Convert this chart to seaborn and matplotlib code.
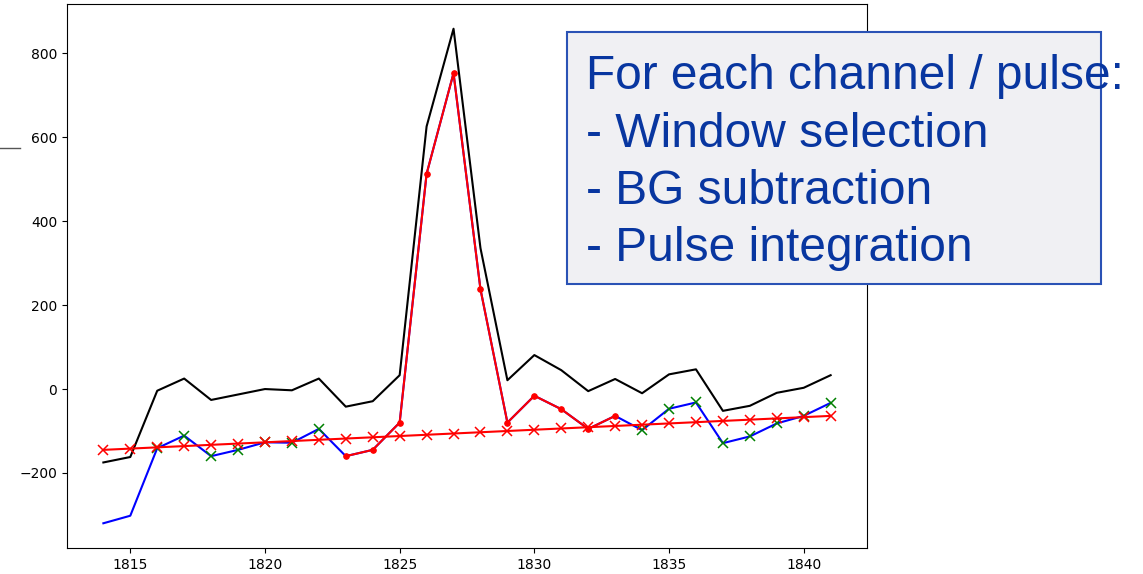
import matplotlib
matplotlib.use("Agg")
import matplotlib.pyplot as plt
import matplotlib.patches as mpatches
from matplotlib.lines import Line2D
import seaborn as sns
import numpy as np
import pandas as pd

# ---- data ----
samples = list(range(1814, 1842))
raw_signal = [-175, -162, -4, 25, -26, -13, 0, -3, 25, -42, -29, 33, 626, 859,
              336, 21, 81, 45, -5, 24, -10, 35, 47, -52, -40, -9, 3, 33]
shifted_signal = [-320, -302, -141, -111, -160, -145, -127, -128, -95, -160, -145,
                  -80, 513, 753, 238, -80, -16, -48, -95, -64, -98, -47, -32, -129,
                  -113, -82, -64, -33]
bg_fit = [-145, -142, -139, -136, -133, -130, -127, -124, -121, -118, -115, -112,
          -109, -106, -103, -100, -97, -94, -91, -88, -85, -82, -79, -76, -73,
          -70, -67, -64]
window_samples = list(range(1823, 1834))
bg_samples = [1816, 1817, 1818, 1819, 1820, 1821, 1822,
              1834, 1835, 1836, 1837, 1838, 1839, 1840, 1841]
box_lines = ["For each channel / pulse:", "- Window selection",
             "- BG subtraction", "- Pulse integration"]

df = pd.DataFrame({"t": samples, "raw": raw_signal,
                   "sig": shifted_signal, "fit": bg_fit})
win = df[df["t"].isin(window_samples)]
bg = df[df["t"].isin(bg_samples)]

W, H = 1143, 574
fig = plt.figure(figsize=(W / 100, H / 100), dpi=100)
ax = fig.add_axes([67 / W, 1 - 548 / H, (867 - 67) / W, (548 - 4) / H])

sns.lineplot(data=df, x="t", y="raw", ax=ax, color="black", lw=1.5,
             sort=False, estimator=None)
sns.lineplot(data=df, x="t", y="sig", ax=ax, color="blue", lw=1.5,
             sort=False, estimator=None)
sns.lineplot(data=win, x="t", y="sig", ax=ax, color="red", lw=1.5,
             marker="o", markersize=4, markeredgecolor="red",
             sort=False, estimator=None)
ax.plot(bg["t"], bg["sig"], ls="none", marker="x", color="green",
        markersize=7, mew=1.1)
sns.lineplot(data=df, x="t", y="fit", ax=ax, color="red", lw=1.5,
             marker="x", markersize=7, markeredgecolor="red", mew=1.1,
             sort=False, estimator=None)

ax.set_xlabel("")
ax.set_ylabel("")
ax.set_xticks([1815, 1820, 1825, 1830, 1835, 1840])
ax.set_yticks([-200, 0, 200, 400, 600, 800])
ax.tick_params(labelsize=10)
for s in ax.spines.values():
    s.set_visible(True)
    s.set_color("black")

# small stray line at left
fig.add_artist(Line2D([0, 20 / W], [1 - 148 / H, 1 - 148 / H],
                      transform=fig.transFigure, color="#555555", lw=1))

# annotation box
rect = mpatches.Rectangle((567 / W, 1 - 284 / H), (1101 - 567) / W,
                          (284 - 32) / H, transform=fig.transFigure,
                          facecolor="#F0F0F3", edgecolor="#2A52B5", lw=1.5,
                          zorder=5)
fig.add_artist(rect)
baselines = [89, 147, 204, 261]
for line, yb in zip(box_lines, baselines):
    fig.text(586 / W, 1 - yb / H, line, fontsize=34.5, color="#0836A0",
             family="Liberation Sans", va="baseline", ha="left", zorder=6)

fig.savefig("out.png", dpi=100)
